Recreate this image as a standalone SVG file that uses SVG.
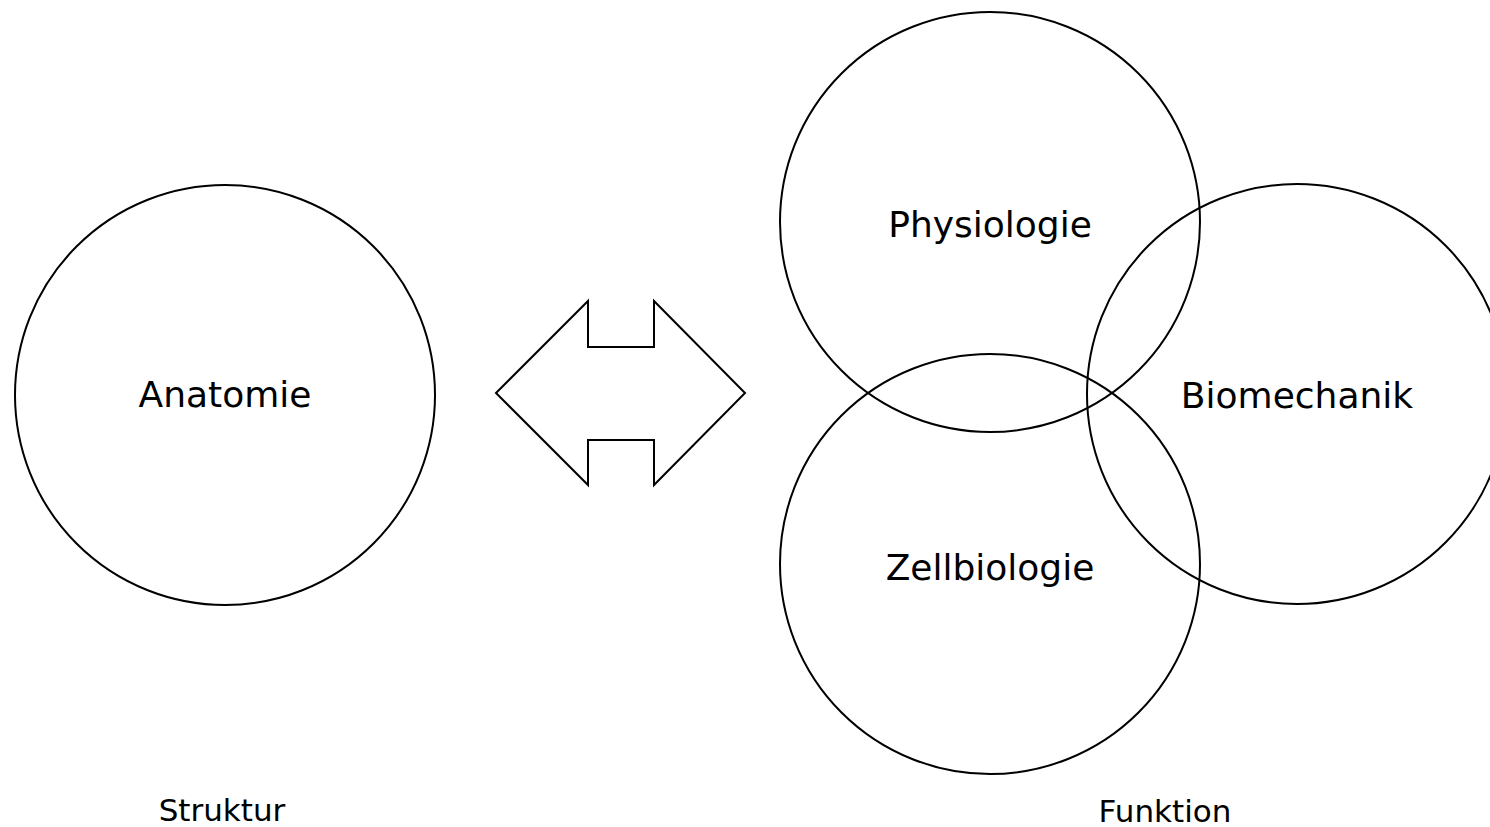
<svg xmlns="http://www.w3.org/2000/svg" width="1490" height="827" viewBox="0 0 1490 827">
<style>
.c{fill:none;stroke:#000;stroke-width:2}
.t{font-family:"DejaVu Sans",Verdana,sans-serif;font-size:36px;fill:#000;text-anchor:middle}
.s{font-family:"DejaVu Sans",Verdana,sans-serif;font-size:31px;fill:#000;text-anchor:middle}
</style>
<rect width="1490" height="827" fill="#fff"/>
<g id="anatomie"><circle class="c" cx="225" cy="395" r="210"/><text class="t" x="225" y="407">Anatomie</text></g>
<g id="physiologie"><circle class="c" cx="990" cy="222" r="210"/><text class="t" x="990" y="237">Physiologie</text></g>
<g id="zellbiologie"><circle class="c" cx="990" cy="564" r="210"/><text class="t" x="990" y="580">Zellbiologie</text></g>
<g id="biomechanik"><circle class="c" cx="1297" cy="394" r="210"/><text class="t" x="1297" y="408">Biomechanik</text></g>
<g id="connectors"><polygon class="c" points="496,393 588,301 588,347 654,347 654,301 745,393 654,485 654,440 588,440 588,485"/></g>
<g id="labels"><text class="s" x="222" y="821">Struktur</text><text class="s" x="1165" y="822">Funktion</text></g>
</svg>
